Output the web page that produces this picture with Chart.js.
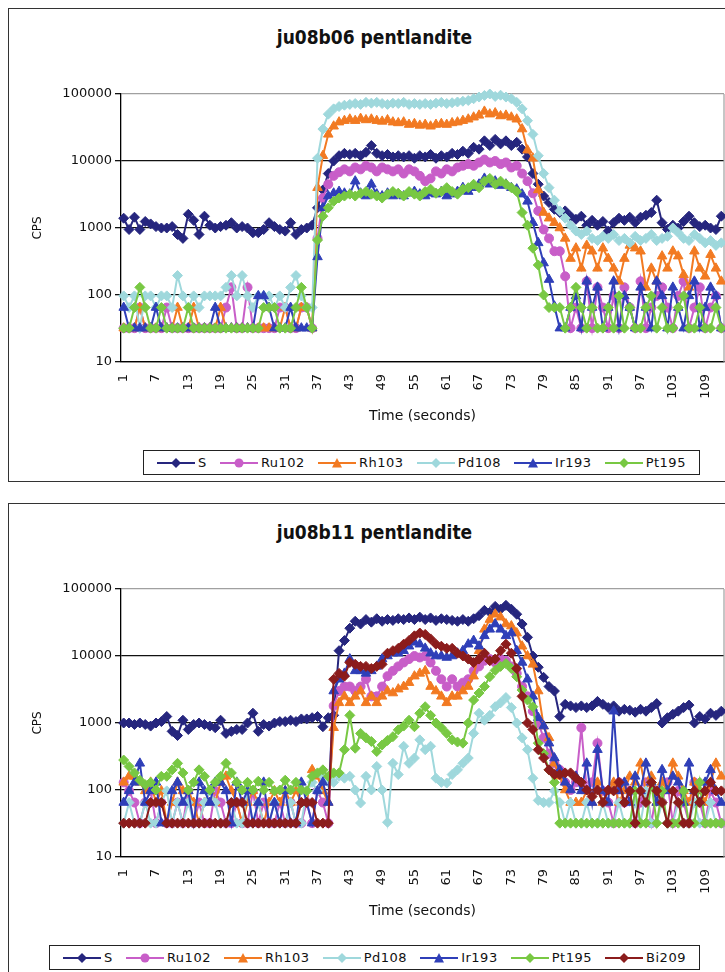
<!DOCTYPE html>
<html>
<head>
<meta charset="utf-8">
<script src="https://cdn.jsdelivr.net/npm/chart.js@4.4.1/dist/chart.umd.min.js"></script>
<style>
  html, body { margin: 0; padding: 0; background: #fff; width: 725px; height: 972px; overflow: hidden; }
  body { position: relative; }
  .frame { position: absolute; left: 8px; width: 745px; height: 474px; border: 1.5px solid #333; box-sizing: border-box; }
  .title { position: absolute; left: 9px; width: 731px; text-align: center; color: #111;
           font: bold 19px "DejaVu Sans Condensed", "Liberation Sans Narrow", "DejaVu Sans", sans-serif; }
  canvas { position: absolute; left: 10px; }
  .legend { position: absolute; height: 25px; border: 1.5px solid #222; box-sizing: border-box; background: #fff;
            display: flex; align-items: center; justify-content: space-evenly;
            font: 13px "DejaVu Sans", sans-serif; letter-spacing: 0.5px; color: #111; }
  .item { display: flex; align-items: center; gap: 3px; }
</style>
</head>
<body>
<div class="frame" style="top:8px"></div>
<div class="frame" style="top:503px"></div>
<div class="title" style="top:26px">ju08b06 pentlandite</div>
<div class="title" style="top:521px">ju08b11 pentlandite</div>
<canvas id="chartB06" width="730" height="413" style="top:12px"></canvas>
<canvas id="chartB11" width="730" height="413" style="top:507px"></canvas>
<div class="legend" id="legendB06" style="left:143px; top:450px; width:557px"></div>
<div class="legend" id="legendB11" style="left:49px; top:945px; width:651px"></div>

<script>
// time axis (seconds)
const TIME = [1,2,3,4,5,6,7,8,9,10,11,12,13,14,15,16,17,18,19,20,21,22,23,24,25,26,27,28,29,30,
  31,32,33,34,35,36,37,38,39,40,41,42,43,44,45,46,47,48,49,50,51,52,53,54,55,56,57,58,59,60,
  61,62,63,64,65,66,67,68,69,70,71,72,73,74,75,76,77,78,79,80,81,82,83,84,85,86,87,88,89,90,
  91,92,93,94,95,96,97,98,99,100,101,102,103,104,105,106,107,108,109,110,111,112];

const Y_TICKS = [10, 100, 1000, 10000, 100000];

// ---- ju08b06 ----
const S_B06 = [1400,950,1450,950,1250,1150,1050,1000,1000,1050,
  800,700,1600,1300,800,1500,1100,1000,1050,1100,
  1200,1000,1050,1000,850,850,950,1200,1050,950,
  900,1200,800,950,1000,1100,2000,3700,6500,10000,
  12000,13000,12500,13000,12000,13500,17000,13000,12000,12500,
  11500,12000,11500,12000,11000,12000,11500,12500,11000,12000,
  11500,13000,12500,14000,13000,16000,15000,20000,17000,21000,
  18000,20000,17000,19000,15000,11500,6500,4500,3000,2400,
  1900,1700,1800,1500,1350,1500,1100,1300,1100,1250,
  900,1200,1400,1300,1450,1200,1450,1550,1700,2600,
  1200,950,1100,1000,1250,1500,1200,1050,1100,1000,
  950,1500];
const RU_B06 = [32,32,32,65,32,32,32,32,65,32,
  32,32,32,32,32,32,32,32,32,65,
  130,32,32,130,32,32,32,32,32,65,
  65,32,32,65,65,32,700,2800,4500,6000,
  6800,7500,7000,8000,7500,8500,8000,7000,8000,7500,
  7000,7500,6500,7500,7000,6000,5000,5500,7000,6500,
  7500,7000,8000,8500,9000,8500,9500,10500,9500,10000,
  9000,9500,8000,8500,6500,5000,3300,1800,950,700,
  450,450,190,32,65,32,160,32,130,65,
  32,97,32,130,65,32,160,32,65,97,
  130,65,32,97,160,32,65,130,32,65,
  97,32];
const RH_B06 = [32,32,32,65,32,32,32,32,32,32,
  65,32,32,65,32,32,32,32,65,32,
  32,32,32,32,32,32,32,32,32,32,
  65,32,32,65,65,32,4000,12000,25000,33000,
  38000,40000,42000,40000,43000,41000,42000,40000,39000,41000,
  38000,37000,38000,35000,36000,34000,35000,33000,35000,36000,
  35000,37000,38000,40000,42000,45000,48000,55000,50000,52000,
  47000,48000,45000,42000,30000,14500,11000,3700,1700,1400,
  1200,1000,700,350,500,250,550,450,250,500,
  350,250,160,350,550,500,450,130,250,160,
  380,250,450,380,200,130,450,250,190,400,
  250,160];
const PD_B06 = [97,65,97,32,97,97,65,97,97,65,
  195,97,65,97,65,97,97,97,97,130,
  195,97,195,97,65,97,97,97,65,97,
  65,130,195,97,65,65,11000,30000,50000,60000,
  65000,68000,70000,72000,70000,75000,73000,75000,72000,70000,
  73000,72000,75000,70000,72000,70000,72000,70000,73000,75000,
  72000,74000,76000,78000,80000,85000,90000,95000,100000,92000,
  96000,90000,85000,75000,60000,40000,25000,12000,6500,4000,
  2600,1800,1400,1100,900,800,900,700,650,750,
  700,800,650,700,600,750,650,700,800,650,
  700,750,1000,850,700,650,800,700,600,650,
  550,600];
const IR_B06 = [65,32,32,32,32,32,65,32,32,32,
  32,32,32,32,32,32,32,65,32,32,
  32,32,32,32,32,97,97,65,32,32,
  32,65,32,32,32,32,370,2000,3000,3300,
  3500,3300,3200,5000,3300,3000,4500,3200,3000,3300,
  3000,3200,3000,3300,3500,3200,3000,3300,3200,3500,
  3000,3200,3500,4000,3500,4000,4500,5500,4500,5000,
  4300,4500,4000,3800,3200,2500,1200,600,300,170,
  68,32,32,65,97,32,160,65,130,32,
  65,160,32,97,65,32,130,65,32,160,
  97,32,130,65,32,97,160,32,65,130,
  97,32];
const PT_B06 = [32,32,65,130,65,32,32,65,32,32,
  32,32,65,32,32,32,32,32,32,32,
  32,32,32,32,32,32,65,65,65,32,
  32,32,65,130,65,32,660,1500,2000,2500,
  2800,3000,3200,3000,3300,3500,3200,3000,2800,3200,
  3500,3300,3000,3500,3200,3000,3500,3800,3300,3500,
  4000,3500,3200,3800,4000,4500,4000,5000,5500,4500,
  5000,4500,4000,3500,1700,1100,500,280,100,65,
  65,65,32,65,130,65,32,65,32,32,
  65,32,97,32,65,32,32,65,97,32,
  65,32,32,65,97,32,32,65,32,32,
  65,32];

// ---- ju08b11 ----
const S_B11 = [1000,1000,950,1000,950,900,1000,1050,1250,750,
  650,1100,800,950,1000,950,900,850,1100,700,
  750,800,800,1000,1400,750,950,900,1000,1050,
  1050,1100,1050,1150,1150,1200,1250,880,1200,1300,
  12000,17000,26000,33000,30000,35000,32000,36000,33000,35000,
  34000,36000,35000,37000,35000,38000,35000,37000,34000,36000,
  35000,34000,33000,35000,33000,36000,40000,48000,45000,55000,
  50000,57000,50000,42000,30000,19000,10000,6800,4800,3500,
  3000,1250,1900,1800,1700,1800,1700,1800,2100,1900,
  1700,1800,1500,1600,1550,1450,1600,1500,1700,1950,
  1000,1200,1350,1500,1700,1850,1000,1250,1150,1400,
  1300,1500];
const RU_B11 = [130,97,65,32,65,97,32,65,32,32,
  65,32,97,32,65,32,32,97,65,32,
  32,65,32,32,97,32,65,32,32,65,
  32,65,32,32,65,32,97,65,32,1800,
  3000,3500,3500,3000,3500,4500,2500,2500,3500,5000,
  6000,7000,8000,9000,10000,9500,10000,8000,6000,4500,
  3500,4500,3500,4000,4500,6000,7000,8500,9000,8000,
  9000,8500,7000,5500,3500,2500,1500,1000,600,350,
  250,200,130,100,130,850,100,130,500,97,
  65,32,130,65,97,32,65,130,32,97,
  65,130,32,97,65,32,130,65,32,97,
  65,32];
const RH_B11 = [130,160,160,130,97,130,65,97,32,65,
  130,97,97,65,32,65,97,65,130,160,
  97,65,32,65,97,65,32,65,97,65,
  97,65,97,65,65,200,160,97,65,850,
  2000,2500,2000,2500,3000,2000,2500,2000,2500,3000,
  2800,3200,3500,4000,5000,5500,6000,3500,3000,2500,
  2000,2500,2500,3000,3500,5000,12000,25000,35000,42000,
  38000,30000,28000,22000,14000,10000,7500,3000,900,600,
  250,160,100,65,65,65,97,65,130,65,
  97,130,65,97,160,130,250,97,160,65,
  130,97,250,160,97,65,130,97,65,130,
  250,160];
const PD_B11 = [32,65,32,32,65,32,32,65,97,32,
  65,32,65,32,32,65,97,65,32,32,
  65,32,32,97,32,65,32,32,65,32,
  32,65,32,32,97,130,97,160,130,130,
  160,150,160,100,64,160,100,225,100,33,
  250,170,450,250,300,560,400,450,150,130,
  127,170,200,250,300,700,1400,1100,1300,1750,
  2000,2400,1700,1000,600,400,150,70,65,65,
  97,65,32,65,32,32,65,32,32,65,
  32,32,65,32,32,65,32,97,32,32,
  65,32,32,65,32,32,65,32,32,65,
  32,32];
const IR_B11 = [65,97,130,250,65,97,130,32,32,97,
  130,65,97,32,130,97,65,130,130,97,
  32,130,65,97,32,65,130,32,65,32,
  97,32,32,130,65,32,97,130,65,3000,
  4500,5500,9000,6000,6000,5500,6000,7000,9000,10000,
  11000,11000,12000,14000,16000,15000,13000,11000,10000,10000,
  9500,10000,11000,12000,15000,17000,14000,20000,25000,30000,
  25000,20000,22000,12000,8000,4500,2500,1200,900,500,
  300,200,130,100,160,97,250,65,400,97,
  65,1500,97,130,65,160,97,250,130,65,
  200,97,160,130,65,250,97,65,130,200,
  97,65];
const PT_B11 = [280,225,180,140,120,130,100,160,160,200,
  250,180,100,130,200,160,100,130,160,250,
  180,130,100,130,100,135,100,130,97,100,
  140,100,130,100,97,160,180,200,160,180,
  180,400,1300,420,700,600,530,375,470,550,
  625,790,900,1100,880,1400,1750,1300,1000,850,
  700,560,520,500,1000,2200,2800,3500,4900,6100,
  7000,7700,6500,4900,3100,2200,1750,500,350,200,
  130,32,32,32,32,32,32,32,32,32,
  32,32,32,32,32,97,32,32,130,32,
  97,32,32,32,97,32,32,130,32,32,
  32,32];
const BI_B11 = [32,32,32,32,32,65,65,65,32,32,
  32,32,32,32,32,32,32,32,32,32,
  65,65,65,32,32,32,32,32,32,32,
  32,32,32,65,65,65,32,32,32,4500,
  5500,5000,8000,7500,7000,7000,6500,7000,7500,11000,
  12000,13000,15000,17000,20000,22000,21000,18000,15000,14000,
  13000,13000,11000,10000,9000,8000,9000,11000,8500,9000,
  12000,15000,11000,6500,2500,1000,800,400,300,200,
  170,170,180,180,150,130,100,80,100,65,
  100,97,130,65,97,32,97,65,130,97,
  65,32,97,65,32,32,97,65,97,130,
  97,97];

const NAMES_B06 = ["S", "Ru102", "Rh103", "Pd108", "Ir193", "Pt195"];
const NAMES_B11 = ["S", "Ru102", "Rh103", "Pd108", "Ir193", "Pt195", "Bi209"];

const COLORS = { S: "#26267e", Ru102: "#c85ec8", Rh103: "#f27a22", Pd108: "#9fd8dc",
                 Ir193: "#2f3fb8", Pt195: "#78c843", Bi209: "#8b1c1c" };
const MARKERS = { S: "rectRot", Ru102: "circle", Rh103: "triangle", Pd108: "rectRot",
                  Ir193: "triangle", Pt195: "rectRot", Bi209: "rectRot" };

const TICK_FONT = { family: "DejaVu Sans", size: 13 };

// gray right edge of the plot area
const plotEdge = {
  id: "plotEdge",
  beforeDatasetsDraw(chart) {
    const { ctx, chartArea: a } = chart;
    ctx.save();
    ctx.strokeStyle = "#a0a0a0";
    ctx.lineWidth = 1.2;
    ctx.beginPath();
    ctx.moveTo(a.right, a.top);
    ctx.lineTo(a.right, a.bottom);
    ctx.stroke();
    ctx.restore();
  }
};

function markerRadius(name) {
  if (MARKERS[name] === "triangle") return 5.5;
  if (MARKERS[name] === "circle") return 4.5;
  return 5;
}

function drawChart(id, names, series) {
  const ctx = document.getElementById(id).getContext("2d");
  return new Chart(ctx, {
    type: "line",
    data: {
      labels: TIME,
      datasets: names.map((name, i) => ({
        label: name,
        data: series[i],
        borderColor: COLORS[name],
        backgroundColor: COLORS[name],
        borderWidth: 2,
        pointStyle: MARKERS[name],
        pointRadius: markerRadius(name),
        pointBorderWidth: 1,
        tension: 0,
        clip: false,
        order: -i // later series on top, like the original
      }))
    },
    options: {
      responsive: false,
      animation: false,
      devicePixelRatio: 1,
      layout: { padding: { top: 82, right: 16, left: 0, bottom: 0 } },
      plugins: { legend: { display: false }, tooltip: { enabled: false } },
      scales: {
        x: {
          offset: true,
          grid: { display: false },
          border: { color: "#000", width: 1.3 },
          ticks: {
            autoSkip: false, maxRotation: 90, minRotation: 90, padding: 4,
            color: "#111", font: TICK_FONT,
            callback: (v, i) => (i % 6 === 0 ? String(TIME[i]) : null)
          },
          title: { display: true, text: "Time (seconds)", color: "#111",
                   font: { family: "DejaVu Sans", size: 14 }, padding: 0 },
          afterFit: (s) => { s.height = 63; }
        },
        y: {
          type: "logarithmic",
          min: 10,
          max: 100000,
          afterBuildTicks: (s) => { s.ticks = Y_TICKS.map((v) => ({ value: v })); },
          grid: {
            color: (c) => (c.tick && c.tick.value === 100000 ? "#a0a0a0" : "#111"),
            tickColor: "#111",
            lineWidth: 1.3,
            tickLength: 6
          },
          border: { color: "#000", width: 1.3 },
          ticks: { color: "#111", font: TICK_FONT, padding: 3, callback: (v) => String(v) },
          title: { display: true, text: "CPS", color: "#111",
                   font: { family: "DejaVu Sans", size: 12 }, padding: { top: 21, bottom: 0 } },
          afterFit: (s) => { s.width = 111; }
        }
      }
    },
    plugins: [plotEdge]
  });
}

function markerSvg(name) {
  const c = COLORS[name];
  let m;
  if (MARKERS[name] === "circle") m = `<circle cx="19" cy="6" r="4.5" fill="${c}"/>`;
  else if (MARKERS[name] === "triangle") m = `<polygon points="19,1 24,10.5 14,10.5" fill="${c}"/>`;
  else m = `<polygon points="19,1 24,6 19,11 14,6" fill="${c}"/>`;
  return `<svg width="38" height="12"><line x1="0" y1="6" x2="38" y2="6" stroke="${c}" stroke-width="2"/>${m}</svg>`;
}

function buildLegend(id, names) {
  document.getElementById(id).innerHTML = names
    .map((n) => `<span class="item">${markerSvg(n)}<span>${n}</span></span>`)
    .join("");
}

drawChart("chartB06", NAMES_B06, [S_B06, RU_B06, RH_B06, PD_B06, IR_B06, PT_B06]);
drawChart("chartB11", NAMES_B11, [S_B11, RU_B11, RH_B11, PD_B11, IR_B11, PT_B11, BI_B11]);
buildLegend("legendB06", NAMES_B06);
buildLegend("legendB11", NAMES_B11);
</script>
</body>
</html>
